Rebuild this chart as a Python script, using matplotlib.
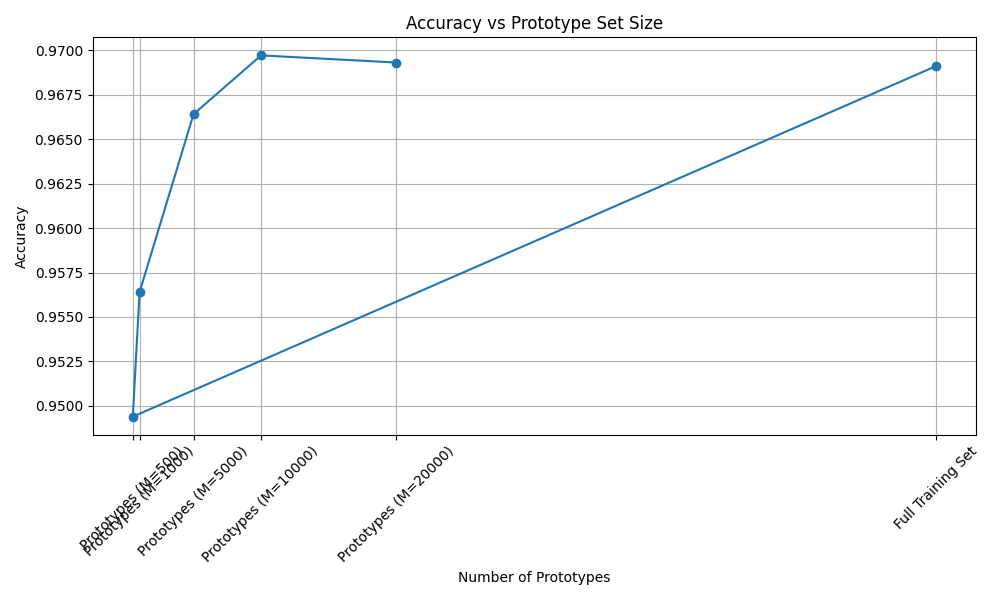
import matplotlib
matplotlib.use("Agg")
import matplotlib.pyplot as plt

# values (plotted in this order)
set_sizes = [60000, 500, 1000, 5000, 10000, 20000]
accuracies = [0.9691, 0.9494, 0.9564, 0.9664, 0.9697, 0.9693]
tick_labels = [
    "Full Training Set",
    "Prototypes (M=500)",
    "Prototypes (M=1000)",
    "Prototypes (M=5000)",
    "Prototypes (M=10000)",
    "Prototypes (M=20000)",
]

fig, ax = plt.subplots(figsize=(10, 6), dpi=100)
ax.plot(set_sizes, accuracies, marker="o")
ax.set_xticks(set_sizes)
ax.set_xticklabels(tick_labels, rotation=45)
ax.set_xlabel("Number of Prototypes")
ax.set_ylabel("Accuracy")
ax.set_title("Accuracy vs Prototype Set Size")
ax.grid(True)
fig.tight_layout()
fig.savefig("out.png")
